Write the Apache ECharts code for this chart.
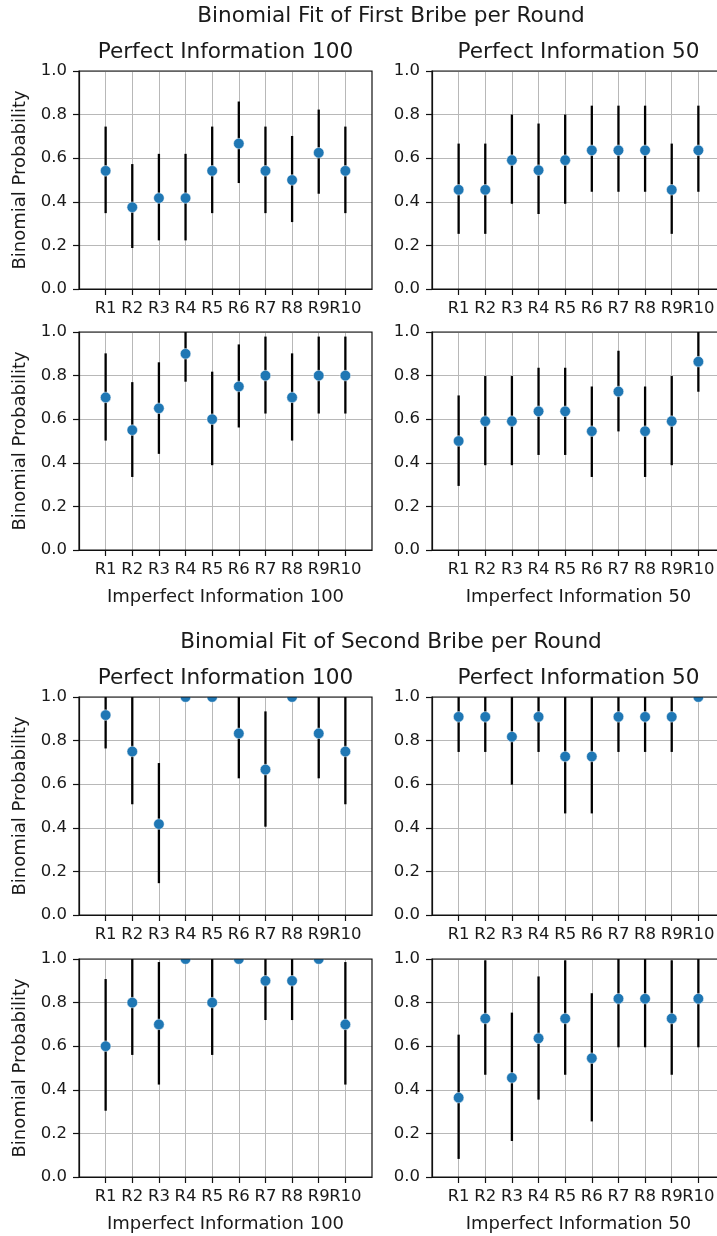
<!DOCTYPE html>
<html>
<head>
<meta charset="utf-8">
<script src="https://cdn.jsdelivr.net/npm/echarts@6/dist/echarts.min.js"></script>
<style>
  html, body { margin: 0; padding: 0; background: #fff; }
  #container { width: 717px; height: 1236px; }
</style>
</head>
<body>
<div id="container"></div>
<script>
// rounds on the x axis
var rounds = ['R1', 'R2', 'R3', 'R4', 'R5', 'R6', 'R7', 'R8', 'R9', 'R10'];

// first bribe, perfect information 100
var firstPerf100 = [0.542, 0.375, 0.417, 0.417, 0.542, 0.667, 0.542, 0.5, 0.625, 0.542];
var firstPerf100Lo = [0.348, 0.188, 0.223, 0.223, 0.348, 0.486, 0.348, 0.307, 0.437, 0.348];
var firstPerf100Hi = [0.745, 0.573, 0.62, 0.62, 0.745, 0.86, 0.745, 0.702, 0.823, 0.745];

// first bribe, perfect information 50
var firstPerf50 = [0.455, 0.455, 0.591, 0.545, 0.591, 0.636, 0.636, 0.636, 0.455, 0.636];
var firstPerf50Lo = [0.253, 0.253, 0.391, 0.344, 0.391, 0.446, 0.446, 0.446, 0.253, 0.446];
var firstPerf50Hi = [0.667, 0.667, 0.8, 0.759, 0.8, 0.841, 0.841, 0.841, 0.667, 0.841];

// first bribe, imperfect information 100
var firstImp100 = [0.7, 0.55, 0.65, 0.9, 0.6, 0.75, 0.8, 0.7, 0.8, 0.8];
var firstImp100Lo = [0.502, 0.335, 0.441, 0.772, 0.389, 0.562, 0.626, 0.502, 0.626, 0.626];
var firstImp100Hi = [0.902, 0.77, 0.861, 1.0, 0.818, 0.943, 0.979, 0.902, 0.979, 0.979];

// first bribe, imperfect information 50
var firstImp50 = [0.5, 0.591, 0.591, 0.636, 0.636, 0.545, 0.727, 0.545, 0.591, 0.864];
var firstImp50Lo = [0.294, 0.389, 0.389, 0.436, 0.436, 0.335, 0.544, 0.335, 0.389, 0.726];
var firstImp50Hi = [0.709, 0.798, 0.798, 0.836, 0.836, 0.75, 0.914, 0.75, 0.798, 1.0];

// second bribe, perfect information 100
var secondPerf100 = [0.917, 0.75, 0.417, 1.0, 1.0, 0.833, 0.667, 1.0, 0.833, 0.75];
var secondPerf100Lo = [0.764, 0.508, 0.146, 1.0, 1.0, 0.627, 0.405, 1.0, 0.627, 0.508];
var secondPerf100Hi = [1.0, 1.0, 0.697, 1.0, 1.0, 1.0, 0.934, 1.0, 1.0, 1.0];

// second bribe, perfect information 50
var secondPerf50 = [0.909, 0.909, 0.818, 0.909, 0.727, 0.727, 0.909, 0.909, 0.909, 1.0];
var secondPerf50Lo = [0.748, 0.748, 0.598, 0.748, 0.466, 0.466, 0.748, 0.748, 0.748, 1.0];
var secondPerf50Hi = [1.0, 1.0, 1.0, 1.0, 1.0, 1.0, 1.0, 1.0, 1.0, 1.0];

// second bribe, imperfect information 100
var secondImp100 = [0.6, 0.8, 0.7, 1.0, 0.8, 1.0, 0.9, 0.9, 1.0, 0.7];
var secondImp100Lo = [0.304, 0.56, 0.424, 1.0, 0.56, 1.0, 0.72, 0.72, 1.0, 0.424];
var secondImp100Hi = [0.908, 1.0, 0.986, 1.0, 1.0, 1.0, 1.0, 1.0, 1.0, 0.986];

// second bribe, imperfect information 50
var secondImp50 = [0.364, 0.727, 0.455, 0.636, 0.727, 0.545, 0.818, 0.818, 0.727, 0.818];
var secondImp50Lo = [0.083, 0.469, 0.165, 0.355, 0.469, 0.255, 0.595, 0.595, 0.469, 0.595];
var secondImp50Hi = [0.653, 0.994, 0.754, 0.92, 0.994, 0.843, 1.0, 1.0, 0.994, 1.0];

var panels = [
    {p: firstPerf100, lo: firstPerf100Lo, hi: firstPerf100Hi, xname: ''},
    {p: firstPerf50, lo: firstPerf50Lo, hi: firstPerf50Hi, xname: ''},
    {p: firstImp100, lo: firstImp100Lo, hi: firstImp100Hi, xname: 'Imperfect Information 100'},
    {p: firstImp50, lo: firstImp50Lo, hi: firstImp50Hi, xname: 'Imperfect Information 50'},
    {p: secondPerf100, lo: secondPerf100Lo, hi: secondPerf100Hi, xname: ''},
    {p: secondPerf50, lo: secondPerf50Lo, hi: secondPerf50Hi, xname: ''},
    {p: secondImp100, lo: secondImp100Lo, hi: secondImp100Hi, xname: 'Imperfect Information 100'},
    {p: secondImp50, lo: secondImp50Lo, hi: secondImp50Hi, xname: 'Imperfect Information 50'}
];

var FONT = 'DejaVu Sans';
var TXT = '#1a1a1a';
var rowTop = [71, 332, 697, 959];
var colLeft = [79, 432];
// an empty slot on each side of the rounds, like the matplotlib margins
var xCats = [' '].concat(rounds, ['  ']);
var inner = function (idx) { return idx > 0 && idx < xCats.length - 1; };

var grids = [], xAxes = [], yAxes = [], series = [];

panels.forEach(function (pn, i) {
    var row = Math.floor(i / 2), col = i % 2;
    grids.push({
        left: colLeft[col], top: rowTop[row], width: 293, height: 218,
        outerBoundsMode: 'none', containLabel: false,
        show: true, borderColor: '#111', borderWidth: 1.2, z: 3
    });
    xAxes.push({
        type: 'category', gridIndex: i, data: xCats, boundaryGap: false,
        name: pn.xname, nameLocation: 'middle', nameGap: 38,
        nameTextStyle: {fontFamily: FONT, fontSize: 18, color: TXT},
        axisLine: {show: true, lineStyle: {color: '#111', width: 1.2}},
        axisTick: {show: true, interval: inner, alignWithLabel: true, length: 6,
            lineStyle: {color: '#111', width: 1.2}},
        axisLabel: {
            interval: 0, margin: 11, fontFamily: FONT, fontSize: 16.5, color: TXT,
            hideOverlap: false
        },
        splitLine: {show: true, interval: inner, lineStyle: {color: '#b8b8b8', width: 1}}
    });
    yAxes.push({
        type: 'value', gridIndex: i, min: 0, max: 1, interval: 0.2,
        name: col === 0 ? 'Binomial Probability' : '', nameLocation: 'middle', nameGap: 50,
        nameTextStyle: {fontFamily: FONT, fontSize: 18, color: TXT},
        axisLine: {show: true, lineStyle: {color: '#111', width: 1.2}},
        axisTick: {show: true, length: 6, lineStyle: {color: '#111', width: 1.2}},
        axisLabel: {
            margin: 12, fontFamily: FONT, fontSize: 16.5, color: TXT,
            formatter: function (v) { return v.toFixed(1); }
        },
        splitLine: {show: true, lineStyle: {color: '#b8b8b8', width: 1}}
    });
    series.push({
        type: 'custom', xAxisIndex: i, yAxisIndex: i, clip: true,
        data: pn.p.map(function (v, k) { return [rounds[k], v, pn.lo[k], pn.hi[k]]; }),
        renderItem: function (params, api) {
            var x = api.value(0);
            var top = api.coord([x, api.value(3)]);
            var bot = api.coord([x, api.value(2)]);
            var pt = api.coord([x, api.value(1)]);
            return {
                type: 'group',
                children: [
                    {type: 'line', shape: {x1: top[0], y1: top[1], x2: bot[0], y2: bot[1]},
                        style: {stroke: '#000', lineWidth: 2.3}},
                    {type: 'circle', shape: {cx: pt[0], cy: pt[1], r: 5.3},
                        style: {fill: '#1f77b4', stroke: '#ffffff', lineWidth: 0.5}}
                ]
            };
        }
    });
});

function label(text, x, y) {
    return {
        type: 'text', x: x, y: y,
        style: {text: text, fontFamily: FONT, fontSize: 21.6, fill: TXT,
            textAlign: 'center', textVerticalAlign: 'middle'}
    };
}

var option = {
    animation: false,
    backgroundColor: '#fff',
    grid: grids,
    xAxis: xAxes,
    yAxis: yAxes,
    series: series,
    graphic: [
        label('Binomial Fit of First Bribe per Round', 391, 16),
        label('Perfect Information 100', 225.5, 52),
        label('Perfect Information 50', 578.5, 52),
        label('Binomial Fit of Second Bribe per Round', 391, 642),
        label('Perfect Information 100', 225.5, 678),
        label('Perfect Information 50', 578.5, 678)
    ]
};

var myChart = echarts.init(document.getElementById('container'));
myChart.setOption(option);
</script>
</body>
</html>
